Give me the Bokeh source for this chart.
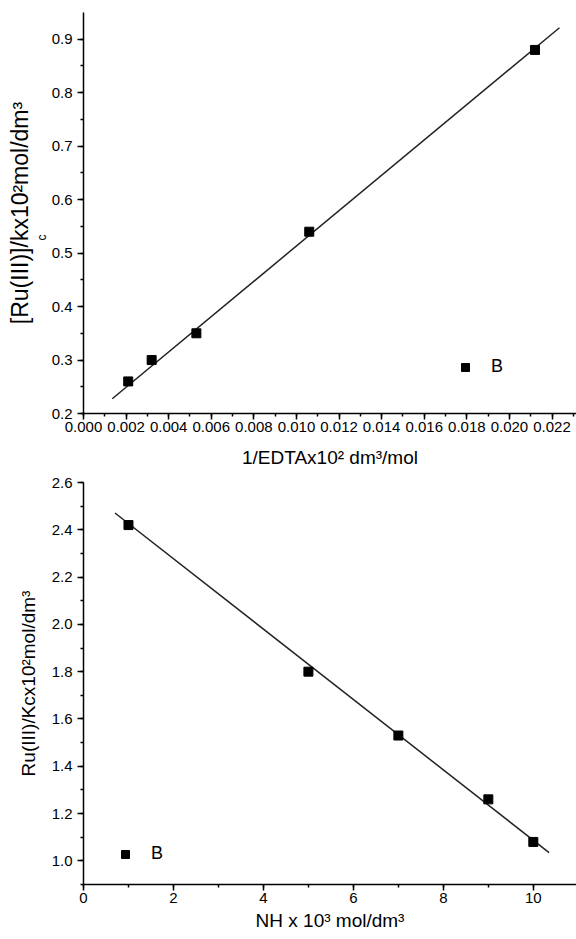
from bokeh.plotting import figure
from bokeh.layouts import column
from bokeh.models import Range1d, SingleIntervalTicker, PrintfTickFormatter, Legend, LegendItem, Title
from bokeh.embed import file_html
from bokeh.resources import INLINE

# Upper panel: [Ru(III)]/kc against 1/[EDTA]
edta_inv = [0.0021, 0.0032, 0.0053, 0.0106, 0.0212]
ru_over_kc = [0.26, 0.30, 0.35, 0.54, 0.88]
edta_fit_x = [0.00135, 0.02235]
edta_fit_y = [0.2275, 0.9215]

# Lower panel: Ru(III)/Kc against [NH]
nh_conc = [1, 5, 7, 9, 10]
ru_over_Kc = [2.42, 1.80, 1.53, 1.26, 1.08]
nh_fit_x = [0.70, 10.35]
nh_fit_y = [2.471, 1.035]

FONT = "Liberation Sans"


def style_axes(p, xint, yint, xfmt, yfmt):
    p.outline_line_color = None
    p.grid.visible = False
    p.xaxis.ticker = SingleIntervalTicker(interval=xint, num_minor_ticks=2)
    p.yaxis.ticker = SingleIntervalTicker(interval=yint, num_minor_ticks=2)
    p.xaxis.formatter = PrintfTickFormatter(format=xfmt)
    p.yaxis.formatter = PrintfTickFormatter(format=yfmt)
    for ax in (p.xaxis, p.yaxis):
        ax.axis_line_width = 1.5
        ax.axis_line_color = "black"
        ax.major_tick_line_width = 1.5
        ax.minor_tick_line_width = 1.5
        ax.major_tick_line_color = "black"
        ax.minor_tick_line_color = "black"
        ax.major_tick_out = 6
        ax.major_tick_in = 0
        ax.minor_tick_out = 3
        ax.minor_tick_in = 0
        ax.major_label_text_font = FONT
        ax.major_label_text_font_size = "15px"
        ax.major_label_text_color = "black"
        ax.axis_label_text_font = FONT
        ax.axis_label_text_font_size = "19px"
        ax.axis_label_text_font_style = "normal"
        ax.axis_label_text_color = "black"
    p.xaxis.major_label_standoff = 2
    p.yaxis.major_label_standoff = 5
    p.xaxis.axis_label_standoff = 12
    p.yaxis.axis_label_standoff = 10


def add_legend(p, renderer, loc):
    leg = Legend(
        items=[LegendItem(label="B", renderers=[renderer])],
        location=loc,
        border_line_color=None,
        background_fill_alpha=0,
        padding=0,
        margin=0,
        spacing=0,
        glyph_width=20,
        glyph_height=20,
        label_height=20,
        label_standoff=16,
        label_text_font=FONT,
        label_text_font_size="18px",
        label_text_color="black",
    )
    p.add_layout(leg)


# ---- upper panel ----
p1 = figure(
    width=576, height=470,
    x_range=Range1d(0, 0.02315), y_range=Range1d(0.2, 0.95),
    output_backend="svg", toolbar_location=None,
    min_border_left=83, min_border_right=0, min_border_top=12, min_border_bottom=57,
)
style_axes(p1, 0.002, 0.1, "%.3f", "%.1f")
p1.xaxis.axis_label = "1/EDTAx10² dm³/mol"
# vertical title: subscript "c" of k sits between the main text and the tick labels
p1.add_layout(Title(text="c", align="left", offset=173, standoff=0,
                    text_font=FONT, text_font_size="12px", text_font_style="normal",
                    text_line_height=0.4, text_color="black"), "left")
p1.add_layout(Title(text="[Ru(III)]/kx10²mol/dm³", align="center", standoff=0,
                    text_font=FONT, text_font_size="23px", text_font_style="normal",
                    text_color="black"), "left")
p1.line(edta_fit_x, edta_fit_y, line_color="#222222", line_width=1.5)
pts1 = p1.scatter(edta_inv, ru_over_kc, marker="square", size=9, color="black")
add_legend(p1, pts1, (372, 36))

# ---- lower panel ----
p2 = figure(
    width=576, height=469,
    x_range=Range1d(0, 10.96), y_range=Range1d(0.9, 2.6),
    output_backend="svg", toolbar_location=None,
    min_border_left=83, min_border_right=0, min_border_top=12, min_border_bottom=55,
)
style_axes(p2, 2, 0.2, "%d", "%.1f")
p2.xaxis.axis_label = "NH x 10³ mol/dm³"
p2.xaxis.axis_label_standoff = 4
p2.yaxis.axis_label = "Ru(III)/Kcx10²mol/dm³"
p2.line(nh_fit_x, nh_fit_y, line_color="#222222", line_width=1.5)
pts2 = p2.scatter(nh_conc, ru_over_Kc, marker="square", size=9, color="black")
add_legend(p2, pts2, (32, 20))

layout = column(p1, p2, spacing=0)
open("out.html", "w").write(file_html(layout, INLINE))
